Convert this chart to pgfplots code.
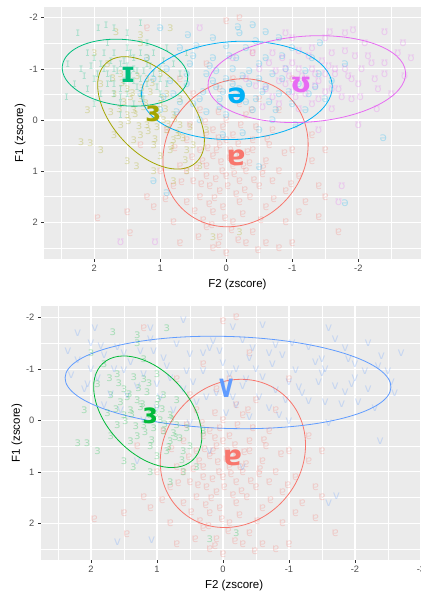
\documentclass[border=0pt]{standalone}
\usepackage{fontspec}
\setmainfont{Liberation Sans}
\newfontfamily\ipa{DejaVu Sans}
\usepackage{graphicx}
\usepackage{pgfplots}
\usepackage{pgfplotstable}
\pgfplotsset{compat=1.18}

\definecolor{ggbg}{HTML}{EBEBEB}
\definecolor{ticktxt}{HTML}{4D4D4D}
\definecolor{tickcol}{HTML}{333333}
\definecolor{cR}{HTML}{F8766D}
\definecolor{cO}{HTML}{A3A500}
\definecolor{cG}{HTML}{00BF7D}
\definecolor{cB}{HTML}{00B0F6}
\definecolor{cM}{HTML}{E76BF3}
\definecolor{cGb}{HTML}{00BA38}
\definecolor{cBb}{HTML}{619CFF}

\newcommand\biglab{\fontsize{28}{28}\selectfont\ipa\bfseries}
\newcommand\ptf{\fontsize{12}{12}\selectfont\ipa}
\tikzset{ell/.style={line width=0.8pt}}

% vowel tokens, F2 (x) and F1 (y) in z-scores
\pgfplotstableread{
x y
 0.10 0.50
-0.20 0.70
 0.30 0.90
-0.40 0.40
 0.00 1.10
-0.10 0.30
 0.20 0.20
-0.30 1.00
 0.40 0.60
-0.60 0.80
 0.50 1.20
-0.50 1.30
 0.10 1.40
-0.20 1.60
 0.00 0.00
-0.30 -0.10
 0.30 0.30
 0.60 0.40
-0.70 0.20
-0.80 1.00
 0.70 0.90
 0.20 1.80
-0.10 2.00
 0.10 2.30
-0.40 2.20
 0.30 2.10
-0.60 1.70
 0.60 1.60
-0.90 1.40
 0.80 1.30
-1.00 0.60
 0.90 0.20
-0.20 -0.30
 0.40 -0.20
-0.50 -0.40
 0.10 -0.60
-0.80 -0.20
 0.50 -0.50
-1.10 1.10
 1.00 1.00
-1.20 1.60
 1.10 1.70
-0.30 2.40
 0.20 2.50
 0.00 2.60
-0.60 2.40
 0.40 1.50
-0.10 0.90
 0.20 0.70
-0.40 0.60
 0.00 0.40
-0.20 1.20
 0.30 1.10
-0.70 1.20
 0.60 1.00
-1.30 0.80
 1.30 0.50
-1.40 1.90
 1.20 1.50
-0.90 2.00
 0.80 2.00
 1.50 1.80
-1.50 1.50
 1.95 1.92
 1.46 2.22
-1.10 1.80
-1.40 1.30
-1.00 2.40
-0.80 2.50
-1.30 0.30
-1.50 0.60
-0.40 -1.30
 0.30 -1.10
-1.00 -0.80
 1.20 -1.80
 0.00 -1.93
-0.20 -2.00
 0.15 0.60
-0.05 0.75
 0.25 1.30
-0.35 0.85
 0.05 1.70
-0.15 1.45
 0.45 0.95
-0.55 1.05
 0.35 1.95
-0.25 1.85
 0.05 0.15
-0.45 0.15
 0.55 0.10
-0.65 0.50
-1.70 2.20
 0.70 2.40
-0.10 -0.80
 0.70 -0.80
 0.12 0.35
-0.18 0.48
 0.28 0.55
-0.32 0.62
 0.08 0.82
-0.12 1.05
 0.38 1.25
-0.42 1.18
 0.18 1.52
-0.28 1.38
 0.02 1.92
-0.08 2.15
 0.22 2.05
-0.52 1.95
 0.48 1.78
-0.72 1.55
 0.68 1.22
-0.62 0.38
 0.32 0.05
-0.22 0.10
 0.12 -0.15
-0.38 -0.20
 0.52 0.72
-0.88 0.65
 0.78 0.55
-0.98 1.25
 0.92 1.55
-0.18 2.35
 0.12 2.45
-0.48 2.55
 0.42 2.30
-0.02 1.30
 0.06 1.00
-0.26 0.90
 0.16 1.15
-0.36 1.50
 0.26 1.65
-0.06 0.60
 0.36 0.80
-0.56 0.95
}\tabA

\pgfplotstableread{
x y
 1.10 -0.10
 1.30 -0.40
 0.90 0.20
 1.50 -0.60
 0.80 0.40
 1.20 0.10
 1.00 -0.30
 1.40 -0.20
 0.70 0.10
 1.60 -0.90
 1.70 -0.50
 0.60 0.60
 1.30 0.30
 0.90 -0.50
 1.10 0.50
 1.50 -0.10
 1.80 -1.10
 1.20 -0.80
 0.80 -0.10
 1.00 0.70
 0.50 0.50
 1.40 0.40
 1.90 -0.70
 1.60 0.10
 0.70 -0.40
 1.20 -1.20
 1.00 -0.90
 2.00 -1.30
 1.30 -1.50
 0.40 0.90
 0.60 1.00
 1.70 0.30
 2.10 -0.20
 0.30 0.20
 1.50 0.80
 1.10 1.00
 0.80 1.20
 1.90 0.60
 1.36 0.90
-0.20 2.20
 0.20 2.30
 1.67 -1.72
 0.85 -1.80
 1.30 -1.66
 2.20 0.44
 2.06 0.45
 1.05 0.15
 1.25 -0.25
 0.95 0.00
 1.45 -0.45
 0.75 0.25
 1.15 -0.55
 0.65 0.35
 1.55 -0.35
 0.85 0.60
 1.35 -0.85
 1.75 -0.15
 0.55 0.15
 1.02 -0.12
 1.22 -0.32
 0.88 0.08
 1.42 -0.52
 0.72 0.32
 1.18 0.22
 0.98 -0.42
 1.58 -0.72
 0.82 0.52
 1.32 0.12
 1.08 0.38
 1.28 -0.62
 0.62 0.78
 1.62 -0.22
 0.92 -0.22
 1.48 0.02
 1.72 -0.82
 0.78 -0.02
 1.12 -0.72
 1.38 -0.12
}\tabE

\pgfplotstableread{
x y
 1.50 -0.90
 1.70 -1.00
 1.30 -0.80
 1.90 -1.10
 1.10 -0.90
 1.60 -0.60
 1.40 -1.20
 2.00 -0.80
 1.20 -1.10
 1.80 -0.70
 1.00 -1.00
 2.20 -1.00
 1.50 -1.40
 1.30 -0.50
 1.70 -1.30
 0.90 -0.70
 2.10 -1.30
 1.90 -0.50
 1.10 -1.30
 1.60 -0.30
 2.30 -0.70
 0.80 -1.10
 1.40 -0.30
 1.20 -1.50
 1.80 -1.50
 2.00 -0.30
 1.00 -0.50
 0.70 -0.90
 1.50 -1.70
 1.94 -1.80
 1.82 -1.85
 1.70 -1.80
 2.25 -1.70
 2.42 -0.45
 1.30 -1.90
 0.60 -1.30
 1.60 -0.10
 1.10 -0.20
 2.40 -1.10
 1.40 -1.00
 1.60 -1.10
 1.20 -0.70
 1.80 -0.90
 2.10 -0.60
 0.90 -1.40
 1.30 -1.30
 1.70 -0.50
 2.00 -1.20
 1.50 -0.50
 1.00 -0.80
 1.55 -0.75
 1.35 -0.95
 1.75 -1.15
 1.45 -0.85
 1.65 -0.95
 1.25 -0.95
 1.85 -1.00
 1.55 -1.15
 1.35 -0.65
 1.75 -0.80
 1.15 -1.05
 1.95 -0.90
 1.45 -1.30
 1.60 -0.45
 2.05 -1.05
 1.25 -0.40
 1.85 -1.30
 1.05 -0.65
 1.70 -0.70
 1.40 -0.75
 2.15 -0.85
 0.95 -1.15
 1.50 -1.05
}\tabI

\pgfplotstableread{
x y
-0.20 -0.60
 0.10 -0.40
-0.50 -0.80
 0.30 -0.90
-0.80 -0.50
 0.50 -0.30
-0.10 -1.00
-0.40 -0.20
 0.20 -1.20
-0.90 -1.00
 0.60 -0.70
-0.60 -1.20
 0.00 -0.10
-1.10 -0.70
 0.80 -0.50
-0.30 -1.40
 0.40 0.00
-1.20 -0.20
 0.90 -1.00
-0.70 0.00
 1.00 -0.20
-1.40 -0.90
 0.20 -1.60
-0.20 -1.70
-1.00 -1.40
 1.10 -0.80
-0.50 0.20
 0.70 -1.40
-1.50 -0.40
 1.00 -1.80
 0.58 -1.66
-0.18 -1.82
-0.40 -1.86
-0.60 -1.72
-1.42 -1.50
-2.38 0.35
 1.10 1.20
 0.90 1.43
-0.50 0.92
-1.80 1.62
-1.30 -1.20
-0.80 -1.60
 0.00 -0.80
-0.35 -0.95
 0.15 -0.65
-0.65 -0.35
 0.35 -0.55
-0.05 -1.25
-0.85 -0.80
 0.55 -1.10
-1.25 -0.50
 0.75 -0.15
-1.60 -0.75
 1.30 -0.50
-0.25 0.25
 0.05 0.30
-1.05 0.10
 1.20 -1.20
-1.80 -1.10
-0.45 -1.55
 0.45 -1.45
-0.15 -0.50
 0.05 -0.55
-0.35 -0.70
 0.20 -0.75
-0.55 -0.55
 0.40 -0.40
-0.25 -0.85
-0.45 -0.40
 0.25 -1.05
-0.70 -0.90
 0.60 -0.90
-0.50 -1.10
 0.10 -0.25
-0.95 -0.55
 0.70 -0.35
-0.15 -1.20
 0.30 -0.15
-1.00 -0.30
 0.85 -0.75
-0.75 -0.20
 0.95 -0.45
-1.20 -0.95
 0.00 -1.45
-0.30 -0.35
-0.85 -1.25
 0.50 -1.25
-1.35 -0.65
-0.10 -0.70
 0.15 -0.95
-0.60 -0.65
}\tabS

\pgfplotstableread{
x y
-1.20 -0.80
-1.50 -0.90
-0.90 -0.70
-1.80 -1.00
-0.60 -0.60
-1.40 -0.40
-1.00 -1.10
-2.00 -0.70
-0.50 -1.00
-1.60 -1.30
-0.80 -0.30
-2.20 -1.10
-1.30 -1.40
-1.90 -0.40
-0.30 -0.80
-2.40 -0.90
-1.10 -0.20
-1.70 -0.60
-0.70 -1.30
-2.60 -1.30
-1.50 -1.60
-2.10 -1.50
-0.20 -0.40
-2.50 -0.50
-1.00 -1.60
-1.80 -1.70
-2.80 -1.20
-2.68 -1.50
-2.40 -1.72
-1.92 -1.76
-1.57 -1.72
-0.90 -1.70
-2.28 -0.20
-2.03 -0.45
-1.70 1.60
-1.75 1.30
 1.08 2.40
 1.60 2.40
-1.30 -1.00
-0.90 -1.00
-1.60 -0.20
-2.30 -0.60
-0.40 -1.30
-1.20 -0.50
-1.45 -1.15
-1.05 -0.45
-1.85 -0.85
-0.75 -0.95
-2.15 -1.25
-1.35 -0.65
-0.55 -0.25
-2.70 -0.85
-1.65 -1.00
-1.10 -1.35
 0.40 -1.80
-0.10 -1.20
-2.00 0.10
-1.40 0.20
-1.15 -0.85
-1.40 -0.75
-0.95 -0.85
-1.65 -0.90
-0.80 -0.75
-1.30 -0.30
-1.10 -1.00
-1.90 -0.80
-0.65 -1.10
-1.55 -1.05
-1.00 -0.55
-2.05 -1.00
-1.25 -1.25
-1.75 -0.45
-0.45 -0.65
-2.25 -0.80
-1.50 -0.55
-0.85 -1.20
-1.95 -1.25
-1.20 -0.65
-1.60 -0.60
-2.40 -1.10
-0.70 -0.45
-1.35 -0.90
-1.80 -1.35
}\tabU

\pgfplotstableread{
x y
 2.00 -1.50
 1.60 -1.42
 1.10 -1.58
 0.70 -1.48
 0.20 -1.40
-0.30 -1.57
-0.80 -1.47
-1.30 -1.42
-1.70 -1.58
-2.20 -1.50
 2.20 -1.18
 1.80 -1.27
 1.40 -1.13
 0.90 -1.22
 0.50 -1.28
 0.00 -1.12
-0.40 -1.21
-0.90 -1.27
-1.40 -1.14
-1.90 -1.20
-2.40 -1.26
 2.30 -0.88
 1.90 -0.83
 1.50 -0.97
 1.20 -0.90
 0.80 -0.82
 0.30 -0.96
-0.10 -0.90
-0.60 -0.84
-1.10 -0.97
-1.50 -0.91
-2.00 -0.83
-2.50 -0.96
 2.10 -0.60
 1.70 -0.52
 1.30 -0.67
 0.60 -0.61
 0.10 -0.53
-0.30 -0.66
-0.80 -0.58
-1.20 -0.54
-1.70 -0.67
-2.20 -0.61
-2.60 -0.53
 1.80 -0.30
 1.00 -0.23
 0.40 -0.36
-0.20 -0.29
-0.70 -0.24
-1.30 -0.37
-1.80 -0.31
-2.30 -0.24
 1.20 0.00
 0.50 0.06
-0.40 -0.06
-1.00 0.01
-1.60 0.05
 0.00 -0.70
-0.50 -1.00
 0.55 -0.95
-1.00 -0.75
 1.00 -0.70
-1.50 -1.20
 1.50 -1.30
-0.20 -1.00
 0.30 -1.30
-2.00 -1.10
 2.00 -1.00
-0.70 -1.30
 0.60 -1.96
-0.15 -1.82
 2.20 -1.70
 1.94 -1.80
 1.10 -1.80
-0.60 -1.85
-1.60 -1.80
 1.60 2.37
 1.08 2.33
-1.60 1.60
-1.72 1.48
-2.38 0.40
 0.20 0.60
-0.30 0.90
 1.30 0.80
-2.70 -1.30
 1.65 -1.00
 1.25 -1.35
 0.85 -1.05
 0.45 -0.75
 0.05 -1.35
-0.35 -0.80
-0.75 -1.10
-1.15 -0.65
-1.55 -1.00
-1.95 -0.70
-2.35 -1.05
 2.05 -0.70
 1.45 -0.50
 0.95 -0.45
 0.25 -0.45
-0.15 -0.45
-0.55 -0.45
-0.95 -0.40
-1.45 -0.75
-1.85 -0.55
-2.15 -0.95
 1.85 -1.45
 1.05 -1.35
 0.15 -1.55
-0.45 -1.40
-1.05 -1.50
-1.85 -1.40
-2.55 -0.75
 2.35 -1.35
 0.75 -0.20
-0.05 -0.15
-0.85 -0.10
-1.55 -0.35
-2.05 -0.35
 1.55 -0.20
}\tabV

\pgfplotsset{
  pts/.style={only marks, mark=text, text mark as node=true,
    text mark style={font=\ptf, opacity=0.27, inner sep=0pt}},
  lab/.style={only marks, mark=text, text mark as node=true,
    text mark style={font=\biglab, inner sep=0pt}},
  ggaxis/.style={
    scale only axis, width=386.9pt,
    x dir=reverse, y dir=reverse,
    xmin=-3.1, xmax=2.762,
    axis background/.style={fill=ggbg},
    axis line style={draw=none},
    grid=both,
    major grid style={white, line width=1.07pt},
    minor grid style={white, line width=0.53pt},
    ytick={-2,-1,0,1,2},
    minor xtick={-2.5,-1.5,-0.5,0.5,1.5,2.5},
    minor ytick={-1.5,-0.5,0.5,1.5,2.5},
    minor tick length=0pt,
    major tick length=2.75pt,
    tick align=outside, tick pos=left,
    tick style={tickcol, line width=0.53pt},
    tick label style={font=\fontsize{9.3}{10}\selectfont, text=ticktxt},
    /pgf/number format/assume math mode=true,
    xlabel={F2 (zscore)}, ylabel={F1 (zscore)},
    label style={font=\fontsize{11.5}{12}\selectfont},
    ylabel shift=-3pt,
  }
}

\begin{document}
\begin{tikzpicture}
% upper panel: five vowels
\begin{axis}[ggaxis, at={(44pt,584pt)}, anchor=north west,
    height=252pt, ymin=-2.21, ymax=2.717, xtick={-2,-1,0,1,2}]
\addplot[pts, cR, text mark={ɐ}] table {\tabA};
\addplot[pts, cO, text mark={ɜ}] table {\tabE};
\addplot[pts, cG, text mark={ɪ}] table {\tabI};
\addplot[pts, cB, text mark={ə}] table {\tabS};
\addplot[pts, cM, text mark={ʊ}] table {\tabU};
\draw[ell, cR, rotate around={50:(axis cs:-0.14,0.64)}] (axis cs:-0.14,0.64) ellipse [x radius=77.3pt, y radius=69.1pt];
\draw[ell, cO, rotate around={-48:(axis cs:1.14,-0.14)}] (axis cs:1.14,-0.14) ellipse [x radius=67pt, y radius=39pt];
\draw[ell, cG, rotate around={-6:(axis cs:1.535,-0.926)}] (axis cs:1.535,-0.926) ellipse [x radius=63pt, y radius=33pt];
\draw[ell, cB, rotate around={3:(axis cs:-0.16,-0.58)}] (axis cs:-0.16,-0.58) ellipse [x radius=95.5pt, y radius=49pt];
\draw[ell, cM, rotate around={4:(axis cs:-1.22,-0.8)}] (axis cs:-1.22,-0.8) ellipse [x radius=99pt, y radius=43pt];
\addplot[lab, cR, text mark={ɐ}] coordinates {(-0.15,0.73)};
\addplot[lab, cO, text mark={ɜ}] coordinates {(1.11,-0.12)};
\addplot[lab, cG, text mark={ɪ}] coordinates {(1.49,-0.88)};
\addplot[lab, cB, text mark={ə}] coordinates {(-0.16,-0.47)};
\addplot[lab, cM, text mark={ʊ}] coordinates {(-1.13,-0.68)};
\end{axis}

% lower panel: three vowels
\begin{axis}[ggaxis, at={(40.7pt,285pt)}, anchor=north west,
    height=254pt, ymin=-2.227, ymax=2.713, xtick={-3,-2,-1,0,1,2}]
\addplot[pts, cR, text mark={ɐ}] table {\tabA};
\addplot[pts, cGb, text mark={ɜ}] table {\tabE};
\addplot[pts, cBb, text mark={v}] table {\tabV};
\draw[ell, cR, rotate around={50:(axis cs:-0.15,0.64)}] (axis cs:-0.15,0.64) ellipse [x radius=77.5pt, y radius=69pt];
\draw[ell, cGb, rotate around={-47:(axis cs:1.14,-0.17)}] (axis cs:1.14,-0.17) ellipse [x radius=66pt, y radius=41pt];
\draw[ell, cBb, rotate around={-1.7:(axis cs:-0.076,-0.74)}] (axis cs:-0.076,-0.74) ellipse [x radius=163pt, y radius=46pt];
\addplot[lab, cR, text mark={ɐ}] coordinates {(-0.144,0.72)};
\addplot[lab, cGb, text mark={ɜ}] coordinates {(1.106,-0.095)};
\addplot[lab, cBb, text mark={\scalebox{0.78}[1.2]{v}}] coordinates {(-0.056,-0.63)};
\end{axis}
\pgfresetboundingbox
\useasboundingbox (0,0) rectangle (420pt,591pt);
\end{tikzpicture}
\end{document}
